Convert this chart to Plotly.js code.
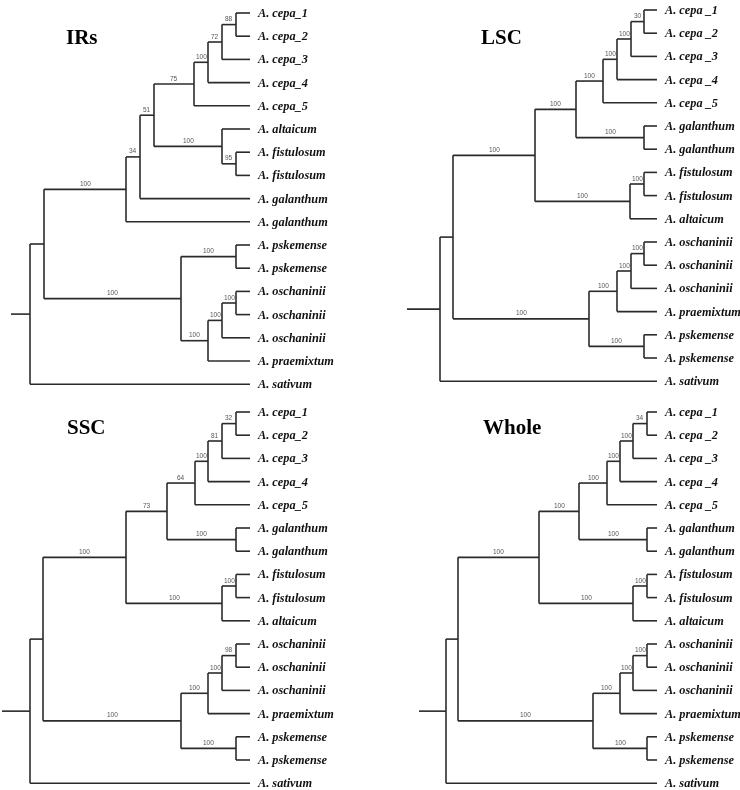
<!DOCTYPE html>
<html><head><meta charset="utf-8">
<script src="https://cdn.plot.ly/plotly-3.0.1.min.js"></script>
<style>html,body{margin:0;padding:0;background:#fff} svg.main-svg{will-change:transform}</style>
</head><body><div id="chart" style="width:740px;height:790px"></div>
<script>
// ---------- DATA ----------
const panelTitles = ["IRs", "LSC", "SSC", "Whole"];

// Leaf labels (top to bottom)
const irsLeaves = ["A. cepa_1","A. cepa_2","A. cepa_3","A. cepa_4","A. cepa_5","A. altaicum","A. fistulosum","A. fistulosum","A. galanthum","A. galanthum","A. pskemense","A. pskemense","A. oschaninii","A. oschaninii","A. oschaninii","A. praemixtum","A. sativum"];
const lscLeaves = ["A. cepa _1","A. cepa _2","A. cepa _3","A. cepa _4","A. cepa _5","A. galanthum","A. galanthum","A. fistulosum","A. fistulosum","A. altaicum","A. oschaninii","A. oschaninii","A. oschaninii","A. praemixtum","A. pskemense","A. pskemense","A. sativum"];
const sscLeaves = ["A. cepa_1","A. cepa_2","A. cepa_3","A. cepa_4","A. cepa_5","A. galanthum","A. galanthum","A. fistulosum","A. fistulosum","A. altaicum","A. oschaninii","A. oschaninii","A. oschaninii","A. praemixtum","A. pskemense","A. pskemense","A. sativum"];
const wholeLeaves = ["A. cepa _1","A. cepa _2","A. cepa _3","A. cepa _4","A. cepa _5","A. galanthum","A. galanthum","A. fistulosum","A. fistulosum","A. altaicum","A. oschaninii","A. oschaninii","A. oschaninii","A. praemixtum","A. pskemense","A. pskemense","A. sativum"];

// Clades: [first leaf, last leaf, node depth, bootstrap support]
const irsClades = [
  [0,16,19,null],[0,15,33,null],[0,9,115,100],[0,8,129,34],[0,7,143,51],
  [0,4,183,75],[0,3,197,100],[0,2,211,72],[0,1,225,88],
  [5,7,211,100],[6,7,225,95],
  [10,15,170,100],[10,11,225,100],[12,15,197,100],[12,14,211,100],[12,13,225,100]
];
const lscClades = [
  [0,16,33,null],[0,15,46,null],[0,9,128,100],[0,6,169,100],[0,4,196,100],
  [0,3,210,100],[0,2,224,100],[0,1,237,30],[5,6,237,100],
  [7,9,223,100],[7,8,237,100],
  [10,15,182,100],[10,13,210,100],[10,12,224,100],[10,11,237,100],[14,15,237,100]
];
const sscClades = [
  [0,16,28,null],[0,15,41,null],[0,9,124,100],[0,6,165,73],[0,4,193,64],
  [0,3,206,100],[0,2,220,81],[0,1,234,32],[5,6,234,100],
  [7,9,220,100],[7,8,234,100],
  [10,15,179,100],[10,13,206,100],[10,12,220,100],[10,11,234,98],[14,15,234,100]
];
const wholeClades = [
  [0,16,27,null],[0,15,39,null],[0,9,120,100],[0,6,160,100],[0,4,188,100],
  [0,3,201,100],[0,2,214,100],[0,1,228,34],[5,6,228,100],
  [7,9,214,100],[7,8,228,100],
  [10,15,174,100],[10,13,201,100],[10,12,214,100],[10,11,228,100],[14,15,228,100]
];
// Tip depth (all leaves aligned)
const tipDepths = [239, 250, 248, 238];

// ---------- LAYOUT GEOMETRY ----------
const W = 740, H = 790;
const panels = [
  {leaves: irsLeaves,   clades: irsClades,   tip: tipDepths[0], left: 0,   top: 0,   originPx: 11,  y0: 13,  title: panelTitles[0], tx: 82,  ty: 37},
  {leaves: lscLeaves,   clades: lscClades,   tip: tipDepths[1], left: 370, top: 0,   originPx: 407, y0: 10,  title: panelTitles[1], tx: 502, ty: 37},
  {leaves: sscLeaves,   clades: sscClades,   tip: tipDepths[2], left: 0,   top: 395, originPx: 2,   y0: 412, title: panelTitles[2], tx: 86,  ty: 427},
  {leaves: wholeLeaves, clades: wholeClades, tip: tipDepths[3], left: 370, top: 395, originPx: 419, y0: 412, title: panelTitles[3], tx: 512, ty: 427}
];
const ROW = 23.2;

function buildTree(clades) {
  const nodes = clades.map(c => ({first: c[0], last: c[1], depth: c[2], support: c[3], kids: [], parent: null}));
  nodes.forEach((n, i) => {
    let best = null;
    nodes.forEach((m, j) => {
      if (j !== i && m.first <= n.first && m.last >= n.last && (m.last - m.first) > (n.last - n.first)) {
        if (!best || (m.last - m.first) < (best.last - best.first)) best = m;
      }
    });
    n.parent = best;
    if (best) best.kids.push(n);
  });
  return {nodes, root: nodes.find(n => !n.parent)};
}

const traces = [];
const annotations = [];
const layout = {
  width: W, height: H, margin: {l: 0, r: 0, t: 0, b: 0},
  paper_bgcolor: "#fff", plot_bgcolor: "#fff", showlegend: false,
  annotations: annotations
};

panels.forEach((p, pi) => {
  const sfx = pi === 0 ? "" : String(pi + 1);
  const xa = "x" + sfx, ya = "y" + sfx;
  layout["xaxis" + sfx] = {
    domain: [p.left / W, (p.left + 370) / W],
    range: [p.left - p.originPx, p.left + 370 - p.originPx],
    visible: false, fixedrange: true
  };
  layout["yaxis" + sfx] = {
    domain: [1 - (p.top + 395) / H, 1 - p.top / H],
    range: [(p.top + 395 - p.y0) / ROW, (p.top - p.y0) / ROW],
    visible: false, fixedrange: true
  };

  const {nodes, root} = buildTree(p.clades);
  const xs = [], ys = [];
  function place(n) {
    const items = n.kids.map(k => ({node: k, start: k.first}));
    for (let i = n.first; i <= n.last; i++) {
      if (!n.kids.some(k => i >= k.first && i <= k.last)) items.push({leaf: i, start: i});
    }
    items.sort((a, b) => a.start - b.start);
    items.forEach(it => {
      if (it.node) { it.y = place(it.node); it.x = it.node.depth; }
      else { it.y = it.leaf; it.x = p.tip; }
      xs.push(n.depth, it.x, null); ys.push(it.y, it.y, null);
    });
    const y1 = items[0].y, y2 = items[items.length - 1].y;
    xs.push(n.depth, n.depth, null); ys.push(y1, y2, null);
    n.y = (y1 + y2) / 2;
    return n.y;
  }
  place(root);
  // root stub
  xs.push(0, root.depth, null); ys.push(root.y, root.y, null);

  traces.push({
    type: "scatter", mode: "lines", x: xs, y: ys, xaxis: xa, yaxis: ya,
    line: {color: "#2b2b2b", width: 1.6}, hoverinfo: "skip", connectgaps: false
  });

  // support values
  nodes.forEach(n => {
    if (n.parent && n.support !== null) {
      annotations.push({
        xref: xa, yref: ya, x: (n.parent.depth + n.depth) / 2, y: n.y,
        text: String(n.support), showarrow: false, yshift: 6,
        xanchor: "center", yanchor: "middle",
        font: {family: "Arial, Liberation Sans, sans-serif", size: 6.5, color: "#555"}
      });
    }
  });

  // leaf labels
  p.leaves.forEach((lab, i) => {
    annotations.push({
      xref: xa, yref: ya, x: p.tip, y: i, text: "<b><i>" + lab + "</i></b>",
      showarrow: false, xanchor: "left", yanchor: "middle", xshift: 5,
      font: {family: "Liberation Serif, Times New Roman, serif", size: 12.3, color: "#111"}
    });
  });

  // panel title
  annotations.push({
    xref: "paper", yref: "paper", x: p.tx / W, y: 1 - p.ty / H,
    text: "<b>" + p.title + "</b>", showarrow: false, xanchor: "center", yanchor: "middle",
    font: {family: "Liberation Serif, Times New Roman, serif", size: 21, color: "#000"}
  });
});

Plotly.newPlot("chart", traces, layout, {staticPlot: true, displayModeBar: false});
</script>
</body></html>
